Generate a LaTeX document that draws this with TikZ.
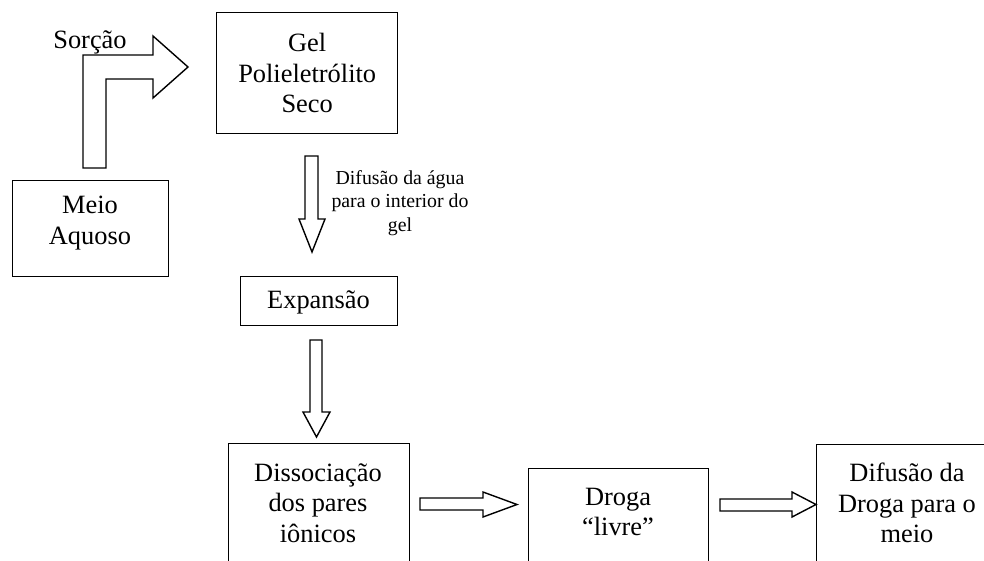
\documentclass[tikz,border=0pt]{standalone}
\usepackage{fontspec}
\setmainfont{Liberation Serif}
\begin{document}
\begin{tikzpicture}[x=1pt,y=-1pt,
  box/.style={draw=black,line width=1.4pt,rectangle,inner sep=0pt,anchor=north west,fill=white},
  bigtxt/.style={font=\fontsize{26.4}{30.5}\selectfont,align=center,inner sep=0pt},
  smalltxt/.style={font=\fontsize{19.8}{23.5}\selectfont,align=center,inner sep=0pt},
  blockarrow/.style={draw=black,line width=1.4pt,fill=white,line join=miter}]
\useasboundingbox (0,0) rectangle (984,560);
\clip (0,0) rectangle (984,560);
% boxes
\node[box,minimum width=181pt,minimum height=121pt] (gel) at (216,12) {};
\node[bigtxt] (geltxt) at (gel.center) {Gel\\Polieletrólito\\Seco};
\node[box,minimum width=156pt,minimum height=96pt] (meio) at (12,180) {};
\node[bigtxt] (meiotxt) at (90,223) {Meio\\Aquoso};
\node[box,minimum width=157pt,minimum height=49pt] (exp) at (240,276) {};
\node[bigtxt] (exptxt) at (318.5,302) {Expansão};
\node[box,minimum width=181pt,minimum height=140pt] (dis) at (228,443) {};
\node[bigtxt] (distxt) at (318,503) {Dissociação\\dos pares\\iônicos};
\node[box,minimum width=180pt,minimum height=120pt] (droga) at (528,468) {};
\node[bigtxt] (drogatxt) at (618,512) {Droga\\“livre”};
\node[box,minimum width=200pt,minimum height=140pt] (dif) at (816,444) {};
\node[bigtxt] (diftxt) at (907,503) {Difusão da\\Droga para o\\meio};
% labels
\node[bigtxt] (sorcao) at (90,42) {Sorção};
\node[smalltxt] (difagua) at (400,203) {Difusão da água\\para o interior do\\gel};
% block arrows
\draw[blockarrow] (83,168) -- (83,55) -- (153,55) -- (153,36) -- (188,67) -- (153,98) -- (153,79) -- (106,79) -- (106,168) -- cycle;
\draw[blockarrow] (305,156) -- (305,219) -- (299,219) -- (312,252) -- (325,219) -- (318,219) -- (318,156) -- cycle;
\draw[blockarrow] (310,340) -- (310,412) -- (303,412) -- (316.5,437) -- (330,412) -- (322,412) -- (322,340) -- cycle;
\draw[blockarrow] (420,498) -- (483,498) -- (483,492) -- (517,504.5) -- (483,517) -- (483,510) -- (420,510) -- cycle;
\draw[blockarrow] (720,499) -- (792,499) -- (792,492) -- (816,504.5) -- (792,517) -- (792,511) -- (720,511) -- cycle;
\end{tikzpicture}
\end{document}
